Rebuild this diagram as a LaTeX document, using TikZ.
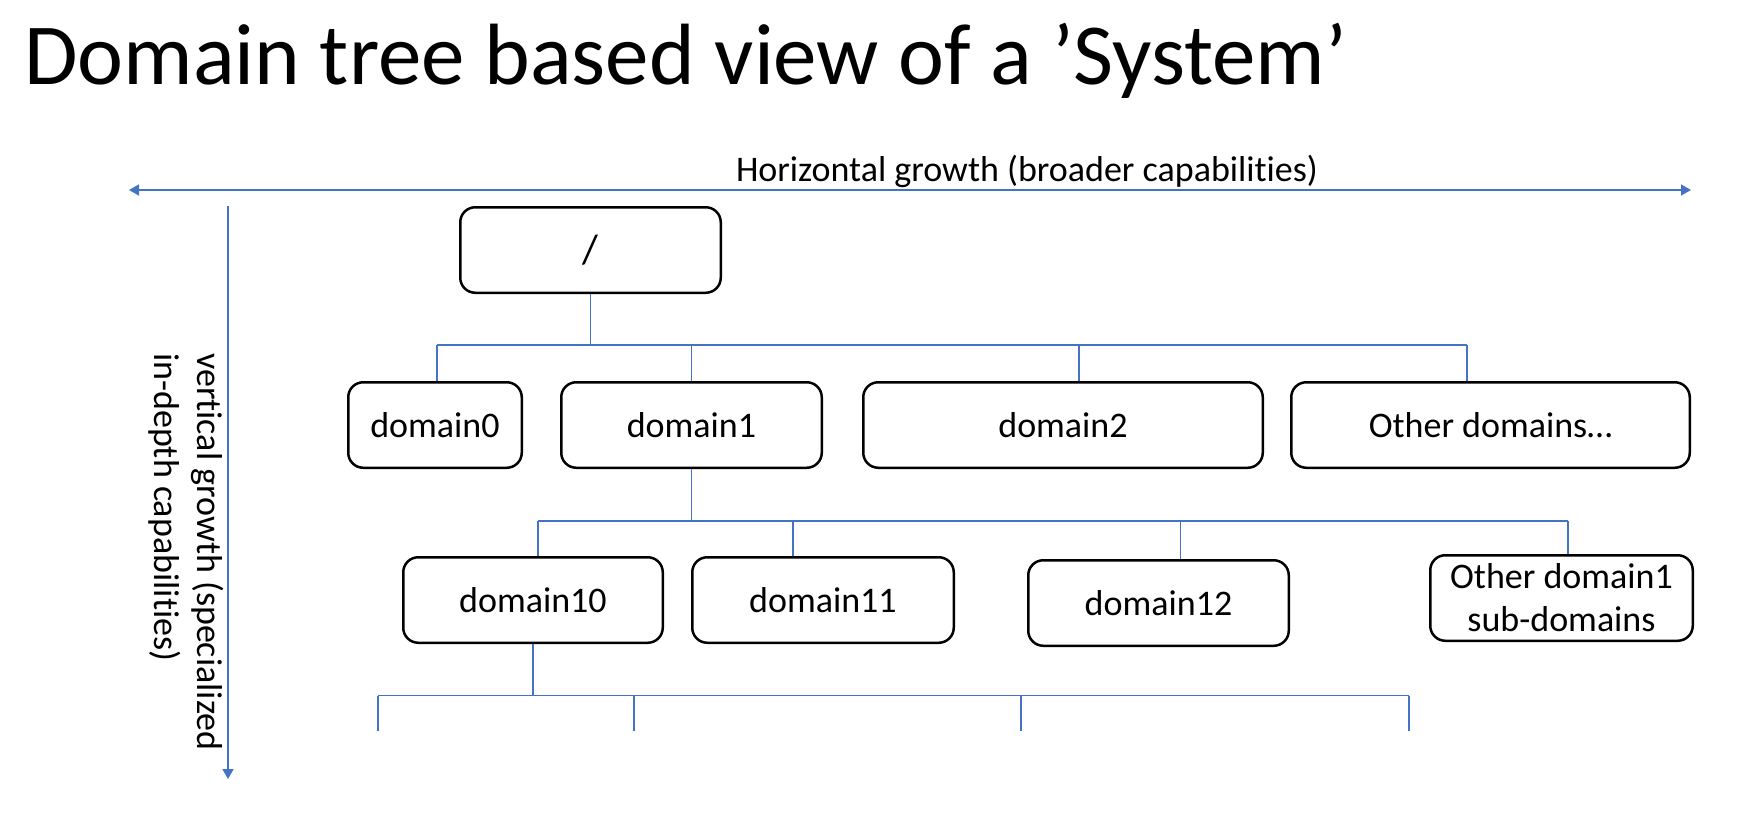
\documentclass[tikz,border=0pt]{standalone}
\usepackage{fontspec}
\setmainfont{Carlito}[Ligatures=NoCommon]
\usetikzlibrary{arrows.meta}
\definecolor{linkblue}{HTML}{4472C4}
\newcommand\mybody{\fontsize{36}{43}\selectfont}
\newcommand\myroot{\fontsize{41}{48}\selectfont}
\newcommand\mytitle{\fontsize{87}{100}\selectfont}
\begin{document}
\begin{tikzpicture}[x=1pt,y=-1pt,
  box/.style={draw=black, line width=2.5pt, rounded corners=15pt, minimum height=85.5pt, inner sep=0pt, font=\mybody, align=center},
  conn/.style={draw=linkblue, line width=1.3pt},
  axis/.style={draw=linkblue, line width=1.5pt}
]
\useasboundingbox (0,0) rectangle (1754,836);

% title
\node[font=\mytitle, anchor=base west, inner sep=0pt] (title) at (24,84) {Domain tree based view of a ’System’};

% axes
\coordinate (hL) at (129,190);
\coordinate (hR) at (1691,190);
\draw[axis, {Triangle[length=10pt,width=11pt]}-{Triangle[length=10pt,width=11pt]}] (hL) -- (hR);
\node[font=\mybody, anchor=base, inner sep=0pt] (hlabel) at (1027,181) {Horizontal growth (broader capabilities)};

\coordinate (vT) at (228,206);
\coordinate (vB) at (228,779);
\draw[axis, -{Triangle[length=10pt,width=11pt]}] (vT) -- (vB);
\node[font=\mybody, rotate=-90, align=left, anchor=north west, inner sep=0pt] (vlabel) at (224,353) {vertical growth (specialized\\in-depth capabilities)};

% boxes
\node[box, minimum width=260.5pt, font=\myroot] (root) at (590.5,250) {/};
\node[box, minimum width=173.5pt] (d0) at (435,425) {domain0};
\node[box, minimum width=260.5pt] (d1) at (691.5,425) {domain1};
\node[box, minimum width=399.5pt] (d2) at (1063,425) {domain2};
\node[box, minimum width=398.5pt] (dx) at (1490.5,425) {Other domains…};
\node[box, minimum width=259.5pt] (d10) at (533,600) {domain10};
\node[box, minimum width=261.5pt] (d11) at (823,600) {domain11};
\node[box, minimum width=260.5pt] (d12) at (1158.5,603) {domain12};
\node[box, minimum width=262.5pt] (d1x) at (1561.5,598) {Other domain1\\sub-domains};

% level 1 connectors
\coordinate (bus1) at (0,345);
\draw[conn] (root.south) -- (root.south |- bus1);
\draw[conn] ([xshift=2pt]d0.north |- bus1) -- ([xshift=-23.5pt]dx.north |- bus1);
\draw[conn] ([xshift=2pt]d0.north) -- ([xshift=2pt]d0.north |- bus1);
\draw[conn] (d1.north) -- (d1.north |- bus1);
\draw[conn] ([xshift=16pt]d2.north) -- ([xshift=16pt]d2.north |- bus1);
\draw[conn] ([xshift=-23.5pt]dx.north) -- ([xshift=-23.5pt]dx.north |- bus1);

% level 2 connectors
\coordinate (bus2) at (0,521);
\draw[conn] (d1.south) -- (d1.south |- bus2);
\draw[conn] ([xshift=5pt]d10.north |- bus2) -- ([xshift=6.5pt]d1x.north |- bus2);
\draw[conn] ([xshift=5pt]d10.north) -- ([xshift=5pt]d10.north |- bus2);
\draw[conn] ([xshift=-30pt]d11.north) -- ([xshift=-30pt]d11.north |- bus2);
\draw[conn] ([xshift=22pt]d12.north) -- ([xshift=22pt]d12.north |- bus2);
\draw[conn] ([xshift=6.5pt]d1x.north) -- ([xshift=6.5pt]d1x.north |- bus2);

% level 3 connectors (open ends)
\coordinate (bus3) at (0,695.5);
\coordinate (c1) at (378,730.5);
\coordinate (c2) at (634,730.5);
\coordinate (c3) at (1021,730.5);
\coordinate (c4) at (1409,730.5);
\draw[conn] (d10.south) -- (d10.south |- bus3);
\draw[conn] (c1 |- bus3) -- (c4 |- bus3);
\foreach \c in {c1,c2,c3,c4} \draw[conn] (\c |- bus3) -- (\c);
\end{tikzpicture}
\end{document}
